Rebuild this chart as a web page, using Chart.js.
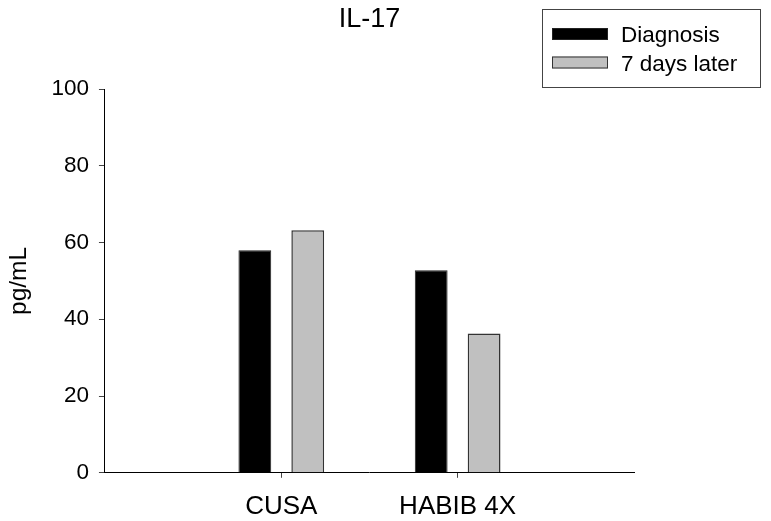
<!DOCTYPE html>
<html>
<head>
<meta charset="utf-8">
<script src="https://cdn.jsdelivr.net/npm/chart.js@4.4.0/dist/chart.umd.min.js"></script>
<style>
  html, body { margin: 0; padding: 0; background: #fff; }
  #wrap { width: 771px; height: 521px; }
</style>
</head>
<body>
<div id="wrap"><canvas id="il17Chart"></canvas></div>
<script>
// values
const categories = ['CUSA', 'HABIB 4X'];
const diagnosis = [58.0, 52.8];
const sevenDaysLater = [63.2, 36.3];
const yTicks = [0, 20, 40, 60, 80, 100];

const FONT = 'Liberation Sans, Arial, sans-serif';

// empty slots on both sides so the two groups sit at 1/3 and 2/3 of the axis
const labels = ['', ...categories, ''];
const pad = arr => [null, ...arr, null];

// title centred over the plot area, legend in a framed box top-right
const titleAndLegend = {
    id: 'titleAndLegend',
    afterDraw(chart) {
        const ctx = chart.ctx;
        const area = chart.chartArea;
        ctx.save();
        ctx.fillStyle = '#000';
        ctx.font = '27px ' + FONT;
        ctx.textAlign = 'center';
        ctx.textBaseline = 'alphabetic';
        ctx.fillText('IL-17', (area.left + area.right) / 2, 27);

        // legend frame
        ctx.strokeStyle = '#444';
        ctx.lineWidth = 1;
        ctx.strokeRect(542.5, 9.5, 218, 78);

        ctx.font = '22.5px ' + FONT;
        ctx.textAlign = 'left';
        chart.data.datasets.forEach((ds, i) => {
            const y = 28 + i * 28.5;
            ctx.fillStyle = ds.backgroundColor;
            ctx.fillRect(552, y, 56, 12);
            ctx.strokeStyle = ds.borderColor;
            ctx.strokeRect(552.5, y + 0.5, 55, 11);
            ctx.fillStyle = '#000';
            ctx.fillText(ds.label, 621, y + 14);
        });
        ctx.restore();
    }
};

const ctx = document.getElementById('il17Chart').getContext('2d');
new Chart(ctx, {
    type: 'bar',
    data: {
        labels: labels,
        datasets: [
            {
                label: 'Diagnosis',
                data: pad(diagnosis),
                backgroundColor: '#000000',
                borderColor: '#222222',
                borderWidth: 1,
                categoryPercentage: 0.6,
                barPercentage: 0.62
            },
            {
                label: '7 days later',
                data: pad(sevenDaysLater),
                backgroundColor: '#c0c0c0',
                borderColor: '#333333',
                borderWidth: 1.5,
                categoryPercentage: 0.6,
                barPercentage: 0.62
            }
        ]
    },
    options: {
        responsive: true,
        maintainAspectRatio: false,
        animation: false,
        layout: {
            padding: { top: 89, right: 137, bottom: -14, left: 5 }
        },
        plugins: {
            legend: { display: false },
            title: { display: false },
            tooltip: { enabled: false }
        },
        scales: {
            x: {
                offset: false,
                grid: {
                    offset: false,
                    drawOnChartArea: false,
                    tickLength: 5,
                    tickColor: c => (c.tick && c.tick.label ? '#444' : 'rgba(0,0,0,0)')
                },
                border: { display: true, color: '#000', width: 1 },
                ticks: {
                    color: '#000',
                    font: { family: FONT, size: 26 },
                    padding: 13,
                    autoSkip: false,
                    maxRotation: 0
                }
            },
            y: {
                min: 0,
                max: 100,
                afterBuildTicks: axis => { axis.ticks = yTicks.map(v => ({ value: v })); },
                grid: {
                    drawOnChartArea: false,
                    tickLength: 6,
                    tickColor: '#444'
                },
                border: { display: true, color: '#000', width: 1 },
                ticks: {
                    color: '#000',
                    font: { family: FONT, size: 22.5 },
                    padding: 10
                },
                title: {
                    display: true,
                    text: 'pg/mL',
                    color: '#000',
                    font: { family: FONT, size: 24.5 },
                    padding: { top: 0, bottom: 7 }
                }
            }
        }
    },
    plugins: [titleAndLegend]
});
</script>
</body>
</html>
